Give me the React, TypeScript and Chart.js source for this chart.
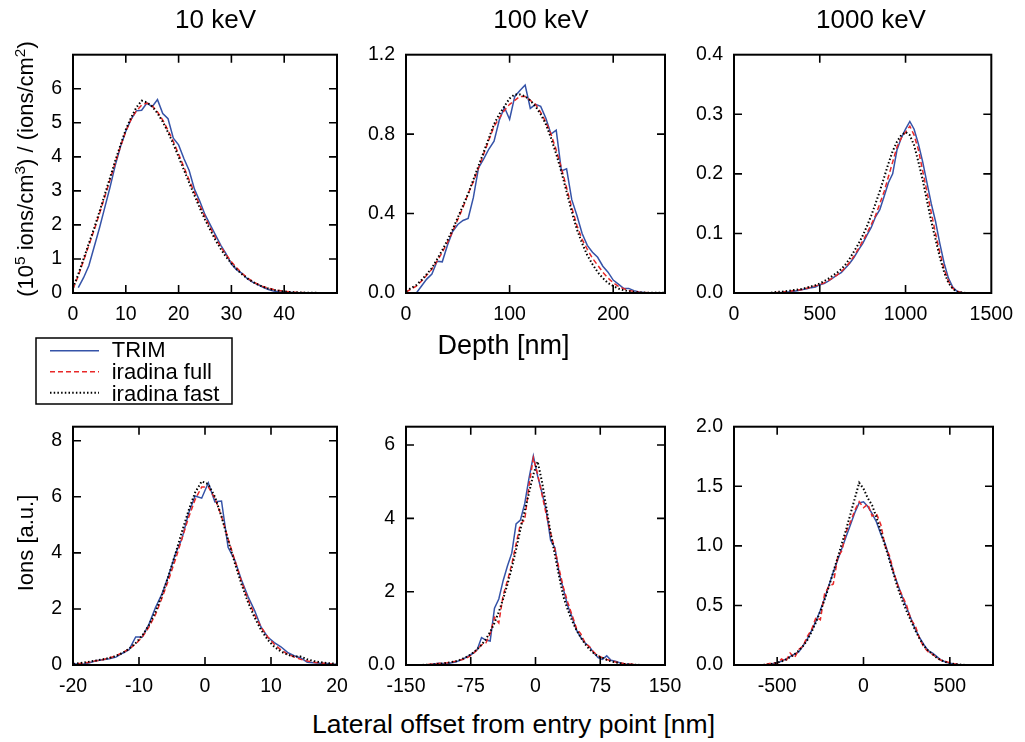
import React, { useEffect, useRef } from "react";
import { Chart, registerables } from "chart.js";

Chart.register(...registerables);

const FONT = "'Liberation Sans', Arial, Helvetica, sans-serif";
const BLUE = "#3553a8";
const RED = "#e82828";
const BLACK = "#000000";

// ---------------- Depth profiles ----------------
// 10 keV
const depth10X = [0, 1, 2, 3, 4, 5, 6, 7, 8, 9, 10, 11, 12, 13, 14, 15, 16, 17, 18, 19, 20, 21, 22, 23, 24, 25, 26, 27, 28, 29, 30, 31, 32, 33, 34, 35, 36, 37, 38, 39, 40, 41, 42, 43, 44, 45, 46, 47, 48, 49];
const depth10Trim = [null, 0.16, 0.45, 0.8, 1.35, 1.9, 2.5, 3.1, 3.75, 4.3, 4.75, 5.1, 5.35, 5.37, 5.58, 5.47, 5.68, 5.27, 5.12, 4.55, 4.35, 3.95, 3.6, 3.05, 2.7, 2.3, 2.0, 1.7, 1.4, 1.15, 0.85, 0.68, 0.58, 0.42, 0.32, 0.25, 0.17, 0.1, 0.06, 0.04, 0.03, 0.02, 0.01, 0, 0, 0, 0, 0, 0, 0];
const depth10Full = [0.12, 0.5, 0.95, 1.4, 1.85, 2.32, 2.82, 3.32, 3.82, 4.3, 4.75, 5.1, 5.35, 5.52, 5.58, 5.5, 5.32, 5.08, 4.78, 4.45, 4.08, 3.7, 3.32, 2.95, 2.58, 2.24, 1.92, 1.62, 1.36, 1.12, 0.92, 0.74, 0.58, 0.45, 0.34, 0.26, 0.19, 0.14, 0.1, 0.07, 0.05, 0.035, 0.025, 0.015, 0.01, 0.005, 0, 0, 0, 0];
const depth10Fast = [0.15, 0.55, 1.0, 1.45, 1.9, 2.38, 2.88, 3.38, 3.88, 4.35, 4.8, 5.15, 5.45, 5.65, 5.6, 5.48, 5.28, 5.03, 4.72, 4.38, 4.0, 3.62, 3.24, 2.87, 2.5, 2.16, 1.85, 1.55, 1.29, 1.06, 0.87, 0.7, 0.55, 0.43, 0.33, 0.25, 0.18, 0.13, 0.09, 0.065, 0.045, 0.03, 0.02, 0.015, 0.01, 0.005, 0.005, 0, 0, 0];

// 100 keV
const depth100X = [0, 5, 10, 15, 20, 25, 30, 35, 40, 45, 50, 55, 60, 65, 70, 75, 80, 85, 90, 95, 100, 105, 110, 115, 120, 125, 130, 135, 140, 145, 150, 155, 160, 165, 170, 175, 180, 185, 190, 195, 200, 205, 210, 215, 220, 225, 230, 235, 240, 245, 250];
const depth100Trim = [null, null, 0.0, 0.035, 0.07, 0.095, 0.16, 0.157, 0.24, 0.31, 0.345, 0.365, 0.375, 0.48, 0.63, 0.675, 0.725, 0.765, 0.87, 0.935, 0.875, 0.99, 1.02, 1.047, 0.93, 0.95, 0.94, 0.88, 0.8, 0.82, 0.615, 0.625, 0.47, 0.39, 0.3, 0.24, 0.205, 0.18, 0.135, 0.105, 0.065, 0.045, 0.024, 0.023, 0.012, 0.005, 0.002, 0, 0, 0, 0];
const depth100Full = [0.005, 0.02, 0.035, 0.06, 0.09, 0.12, 0.16, 0.205, 0.255, 0.31, 0.37, 0.43, 0.5, 0.56, 0.63, 0.7, 0.77, 0.84, 0.88, 0.92, 0.95, 0.97, 0.99, 0.99, 0.97, 0.95, 0.91, 0.86, 0.8, 0.72, 0.63, 0.53, 0.43, 0.34, 0.27, 0.22, 0.175, 0.14, 0.105, 0.075, 0.052, 0.034, 0.022, 0.013, 0.008, 0.004, 0.002, 0.001, 0, 0, 0];
const depth100Fast = [0.01, 0.025, 0.04, 0.065, 0.095, 0.125, 0.17, 0.215, 0.265, 0.32, 0.38, 0.44, 0.5, 0.57, 0.64, 0.71, 0.78, 0.85, 0.9, 0.94, 0.98, 1.0, 1.0, 0.99, 0.97, 0.94, 0.9, 0.85, 0.78, 0.7, 0.61, 0.51, 0.41, 0.32, 0.25, 0.19, 0.145, 0.105, 0.075, 0.05, 0.035, 0.022, 0.014, 0.009, 0.005, 0.003, 0.002, 0.001, 0.001, 0.001, 0.001];

// 1000 keV
const depth1000X = [0, 25, 50, 75, 100, 125, 150, 175, 200, 225, 250, 275, 300, 325, 350, 375, 400, 425, 450, 475, 500, 525, 550, 575, 600, 625, 650, 675, 700, 725, 750, 775, 800, 825, 850, 875, 900, 925, 950, 975, 1000, 1025, 1050, 1075, 1100, 1125, 1150, 1175, 1200, 1225, 1250, 1275, 1300, 1325, 1350, 1375, 1400, 1425, 1450, 1475, 1500];
const depth1000Trim = [0, 0, 0, 0, 0, 0, 0, 0, 0, 0, 0, 0.001, 0.001, 0.002, 0.003, 0.004, 0.006, 0.007, 0.009, 0.01, 0.014, 0.016, 0.02, 0.025, 0.03, 0.034, 0.042, 0.05, 0.06, 0.072, 0.083, 0.097, 0.11, 0.128, 0.14, 0.162, 0.185, 0.2, 0.24, 0.26, 0.275, 0.288, 0.275, 0.25, 0.22, 0.185, 0.15, 0.12, 0.083, 0.05, 0.025, 0.01, 0.003, 0.001, 0, 0, 0, 0, 0, 0, 0];
const depth1000Full = [0, 0, 0, 0, 0, 0, 0, 0, 0, 0, 0.001, 0.001, 0.002, 0.003, 0.004, 0.005, 0.006, 0.008, 0.01, 0.012, 0.014, 0.017, 0.021, 0.025, 0.03, 0.036, 0.043, 0.052, 0.062, 0.074, 0.087, 0.1, 0.115, 0.13, 0.15, 0.17, 0.195, 0.22, 0.245, 0.26, 0.27, 0.28, 0.265, 0.24, 0.205, 0.17, 0.135, 0.1, 0.068, 0.04, 0.02, 0.008, 0.003, 0.001, 0, 0, 0, 0, 0, 0, 0];
const depth1000Fast = [0, 0, 0, 0, 0, 0, 0, 0, 0, 0.001, 0.002, 0.002, 0.003, 0.004, 0.005, 0.006, 0.007, 0.009, 0.011, 0.013, 0.016, 0.02, 0.024, 0.029, 0.034, 0.04, 0.048, 0.058, 0.07, 0.082, 0.096, 0.112, 0.13, 0.15, 0.171, 0.194, 0.217, 0.238, 0.254, 0.265, 0.27, 0.265, 0.248, 0.22, 0.19, 0.155, 0.12, 0.09, 0.06, 0.035, 0.017, 0.007, 0.002, 0.001, 0, 0, 0, 0, 0, 0, 0];

// ---------------- Lateral profiles ----------------
// 10 keV
const lat10X = [-20.5, -19.5, -18.5, -17.5, -16.5, -15.5, -14.5, -13.5, -12.5, -11.5, -10.5, -9.5, -8.5, -7.5, -6.5, -5.5, -4.5, -3.5, -2.5, -1.5, -0.5, 0.5, 1.5, 2.5, 3.5, 4.5, 5.5, 6.5, 7.5, 8.5, 9.5, 10.5, 11.5, 12.5, 13.5, 14.5, 15.5, 16.5, 17.5, 18.5, 19.5, 20.5];
const lat10Trim = [0.05, 0.04, 0.03, 0.08, 0.15, 0.19, 0.22, 0.28, 0.42, 0.55, 1.0, 1.0, 1.45, 2.05, 2.55, 3.2, 3.95, 4.5, 5.4, 6.03, 5.95, 6.5, 5.82, 5.85, 4.2, 3.75, 3.05, 2.45, 1.95, 1.35, 1.0, 0.8, 0.65, 0.45, 0.33, 0.25, 0.1, 0.08, 0.06, 0.05, 0.03, 0.02];
const lat10Full = [0.03, 0.04, 0.06, 0.1, 0.15, 0.19, 0.25, 0.33, 0.44, 0.57, 0.75, 1.0, 1.35, 1.8, 2.4, 3.05, 3.75, 4.5, 5.25, 5.9, 6.35, 6.35, 5.95, 5.3, 4.5, 3.75, 3.0, 2.35, 1.8, 1.35, 1.0, 0.74, 0.54, 0.39, 0.29, 0.2, 0.14, 0.1, 0.07, 0.05, 0.03, 0.02];
const lat10Fast = [0.03, 0.05, 0.08, 0.12, 0.16, 0.2, 0.25, 0.32, 0.43, 0.58, 0.78, 1.05, 1.42, 1.9, 2.5, 3.2, 3.95, 4.75, 5.5, 6.15, 6.55, 6.45, 6.0, 5.3, 4.45, 3.65, 2.9, 2.25, 1.7, 1.25, 0.9, 0.65, 0.48, 0.37, 0.3, 0.3, 0.2, 0.14, 0.1, 0.07, 0.05, 0.04];

// 100 keV
const lat100X = [-152.5, -147.5, -142.5, -137.5, -132.5, -127.5, -122.5, -117.5, -112.5, -107.5, -102.5, -97.5, -92.5, -87.5, -82.5, -77.5, -72.5, -67.5, -62.5, -57.5, -52.5, -47.5, -42.5, -37.5, -32.5, -27.5, -22.5, -17.5, -12.5, -7.5, -2.5, 2.5, 7.5, 12.5, 17.5, 22.5, 27.5, 32.5, 37.5, 42.5, 47.5, 52.5, 57.5, 62.5, 67.5, 72.5, 77.5, 82.5, 87.5, 92.5, 97.5, 102.5, 107.5, 112.5, 117.5, 122.5, 127.5, 132.5, 137.5, 142.5, 147.5, 152.5];
const lat100Trim = [0, 0, 0, 0, 0, 0, 0.01, 0.03, 0.05, 0.04, 0.03, 0.06, 0.08, 0.13, 0.18, 0.25, 0.32, 0.42, 0.75, 0.68, 0.65, 1.55, 1.8, 2.3, 2.7, 3.05, 3.85, 3.95, 4.4, 5.1, 5.7, 5.15, 4.7, 4.2, 3.4, 3.2, 2.5, 2.05, 1.6, 1.3, 0.95, 0.75, 0.6, 0.5, 0.33, 0.2, 0.15, 0.25, 0.13, 0.1, 0.06, 0.03, 0.02, 0.01, 0, 0, 0, 0, 0, 0, 0, 0];
const lat100Full = [0, 0, 0, 0, 0, 0.01, 0.02, 0.03, 0.04, 0.05, 0.06, 0.08, 0.1, 0.13, 0.16, 0.22, 0.3, 0.42, 0.55, 0.6, 0.85, 1.3, 1.15, 1.9, 2.3, 2.75, 3.3, 3.85, 3.95, 4.9, 5.65, 5.2, 4.65, 4.1, 3.6, 3.15, 2.6, 2.1, 1.7, 1.35, 1.0, 0.85, 0.6, 0.5, 0.35, 0.25, 0.2, 0.15, 0.12, 0.08, 0.06, 0.04, 0.03, 0.02, 0.01, 0, 0, 0, 0, 0, 0, 0];
const lat100Fast = [0, 0, 0, 0, 0, 0.01, 0.01, 0.02, 0.03, 0.04, 0.06, 0.08, 0.1, 0.14, 0.19, 0.25, 0.33, 0.43, 0.55, 0.7, 0.9, 1.15, 1.45, 1.8, 2.2, 2.65, 3.15, 3.7, 4.2, 4.7, 5.2, 5.55, 5.0, 4.3, 3.6, 3.0, 2.4, 1.85, 1.5, 1.2, 0.95, 0.75, 0.57, 0.43, 0.32, 0.24, 0.2, 0.14, 0.1, 0.07, 0.05, 0.03, 0.02, 0.01, 0.01, 0, 0, 0, 0, 0, 0, 0];

// 1000 keV
const lat1000X = [-750, -725, -700, -675, -650, -625, -600, -575, -550, -525, -500, -475, -450, -425, -400, -375, -350, -325, -300, -275, -250, -225, -200, -175, -150, -125, -100, -75, -50, -25, 0, 25, 50, 75, 100, 125, 150, 175, 200, 225, 250, 275, 300, 325, 350, 375, 400, 425, 450, 475, 500, 525, 550, 575, 600, 625, 650, 675, 700, 725, 750];
const lat1000Trim = [0, 0, 0, 0, 0, 0, 0, 0, 0.005, 0.01, 0.02, 0.03, 0.05, 0.07, 0.09, 0.11, 0.16, 0.22, 0.29, 0.37, 0.46, 0.56, 0.67, 0.78, 0.88, 0.98, 1.08, 1.18, 1.28, 1.36, 1.37, 1.33, 1.27, 1.2, 1.1, 1.02, 0.9, 0.77, 0.67, 0.57, 0.48, 0.39, 0.3, 0.23, 0.17, 0.12, 0.1, 0.07, 0.04, 0.025, 0.015, 0.008, 0.004, 0.002, 0, 0, 0, 0, 0, 0, 0];
const lat1000Full = [0, 0, 0, 0, 0, 0, 0, 0, 0.01, 0.02, 0.01, 0.05, 0.03, 0.1, 0.06, 0.13, 0.16, 0.24, 0.3, 0.4, 0.38, 0.6, 0.66, 0.68, 0.9, 0.96, 1.12, 1.2, 1.3, 1.37, 1.32, 1.35, 1.25, 1.27, 1.18, 1.0, 0.92, 0.78, 0.66, 0.58, 0.5, 0.38, 0.33, 0.22, 0.15, 0.11, 0.09, 0.06, 0.04, 0.03, 0.02, 0.01, 0.005, 0, 0, 0, 0, 0, 0, 0, 0];
const lat1000Fast = [0, 0, 0, 0, 0, 0, 0, 0.002, 0.005, 0.01, 0.02, 0.03, 0.045, 0.065, 0.09, 0.12, 0.16, 0.21, 0.28, 0.36, 0.45, 0.55, 0.66, 0.78, 0.9, 1.02, 1.14, 1.27, 1.4, 1.53, 1.48, 1.4, 1.34, 1.24, 1.12, 1.0, 0.88, 0.76, 0.64, 0.54, 0.45, 0.37, 0.29, 0.22, 0.16, 0.12, 0.09, 0.06, 0.04, 0.025, 0.015, 0.008, 0.004, 0.002, 0, 0, 0, 0, 0, 0, 0];

// ---------------- Ticks ----------------
const depth10XTicks = [0, 10, 20, 30, 40];
const depth10XLabels = ["0", "10", "20", "30", "40"];
const depth10YTicks = [0, 1, 2, 3, 4, 5, 6];
const depth10YLabels = ["0", "1", "2", "3", "4", "5", "6"];
const depth100XTicks = [0, 100, 200];
const depth100XLabels = ["0", "100", "200"];
const depth100YTicks = [0, 0.4, 0.8, 1.2];
const depth100YLabels = ["0.0", "0.4", "0.8", "1.2"];
const depth1000XTicks = [0, 500, 1000, 1500];
const depth1000XLabels = ["0", "500", "1000", "1500"];
const depth1000YTicks = [0, 0.1, 0.2, 0.3, 0.4];
const depth1000YLabels = ["0.0", "0.1", "0.2", "0.3", "0.4"];
const lat10XTicks = [-20, -10, 0, 10, 20];
const lat10XLabels = ["-20", "-10", "0", "10", "20"];
const lat10YTicks = [0, 2, 4, 6, 8];
const lat10YLabels = ["0", "2", "4", "6", "8"];
const lat100XTicks = [-150, -75, 0, 75, 150];
const lat100XLabels = ["-150", "-75", "0", "75", "150"];
const lat100YTicks = [0, 2, 4, 6];
const lat100YLabels = ["0.0", "2", "4", "6"];
const lat1000XTicks = [-500, 0, 500];
const lat1000XLabels = ["-500", "0", "500"];
const lat1000YTicks = [0, 0.5, 1.0, 1.5, 2.0];
const lat1000YLabels = ["0.0", "0.5", "1.0", "1.5", "2.0"];

type Spec = {
  box: [number, number, number, number];
  x: number[];
  trim: (number | null)[];
  full: number[];
  fast: number[];
  xRange: [number, number];
  yRange: [number, number];
  xTicks: number[];
  xLabels: string[];
  yTicks: number[];
  yLabels: string[];
};

const ML = 70;
const MT = 15;
const MR = 30;
const MB = 40;

const framePlugin = {
  id: "gnuFrame",
  afterDraw(chart: any) {
    const { ctx, chartArea } = chart;
    const { left, top, right, bottom } = chartArea;
    const xs = chart.scales.x;
    const ys = chart.scales.y;
    const TL = 8;
    ctx.save();
    ctx.strokeStyle = "#000";
    ctx.lineWidth = 1.6;
    ctx.beginPath();
    xs.ticks.forEach((t: any) => {
      const p = xs.getPixelForValue(t.value);
      if (p <= left + 1 || p >= right - 1) return;
      ctx.moveTo(p, bottom);
      ctx.lineTo(p, bottom - TL);
      ctx.moveTo(p, top);
      ctx.lineTo(p, top + TL);
    });
    ys.ticks.forEach((t: any) => {
      const p = ys.getPixelForValue(t.value);
      if (p >= bottom - 1 || p <= top + 1) return;
      ctx.moveTo(left, p);
      ctx.lineTo(left + TL, p);
      ctx.moveTo(right, p);
      ctx.lineTo(right - TL, p);
    });
    ctx.stroke();
    ctx.lineWidth = 2;
    ctx.strokeRect(left, top, right - left, bottom - top);
    ctx.restore();
  },
};

function Panel({ spec }: { spec: Spec }) {
  const ref = useRef<HTMLCanvasElement | null>(null);
  const [L, T, R, B] = spec.box;
  const width = R - L + ML + MR;
  const height = B - T + MT + MB;
  useEffect(() => {
    if (!ref.current) return;
    const mk = (ys: (number | null)[]) => spec.x.map((v, i) => ({ x: v, y: ys[i] }));
    const tickFont = { family: FONT, size: 19.5 };
    const chart = new Chart(ref.current, {
      type: "line",
      data: {
        datasets: [
          { label: "TRIM", data: mk(spec.trim), borderColor: BLUE, borderWidth: 1.5, pointRadius: 0, tension: 0, order: 3, fill: false },
          { label: "iradina full", data: mk(spec.full), borderColor: RED, borderWidth: 1.5, borderDash: [5, 3], pointRadius: 0, tension: 0, order: 2, fill: false },
          { label: "iradina fast", data: mk(spec.fast), borderColor: BLACK, borderWidth: 2, borderDash: [1.5, 2.2], pointRadius: 0, tension: 0, order: 1, fill: false },
        ] as any,
      },
      options: {
        animation: false,
        responsive: false,
        devicePixelRatio: 1,
        events: [],
        layout: { padding: { left: 0, top: MT, right: MR, bottom: 0 } },
        plugins: { legend: { display: false }, tooltip: { enabled: false } },
        scales: {
          x: {
            type: "linear",
            min: spec.xRange[0],
            max: spec.xRange[1],
            grid: { display: false, drawTicks: false },
            border: { display: false },
            ticks: {
              autoSkip: false,
              maxRotation: 0,
              padding: 10,
              color: "#000",
              font: tickFont,
              callback: (_v: any, i: number) => spec.xLabels[i],
            },
            afterBuildTicks: (s: any) => {
              s.ticks = spec.xTicks.map((v) => ({ value: v }));
            },
            afterFit: (s: any) => {
              s.height = MB;
            },
          },
          y: {
            type: "linear",
            min: spec.yRange[0],
            max: spec.yRange[1],
            grid: { display: false, drawTicks: false },
            border: { display: false },
            ticks: {
              autoSkip: false,
              padding: 11,
              color: "#000",
              font: tickFont,
              callback: (_v: any, i: number) => spec.yLabels[i],
            },
            afterBuildTicks: (s: any) => {
              s.ticks = spec.yTicks.map((v) => ({ value: v }));
            },
            afterFit: (s: any) => {
              s.width = ML;
            },
          },
        },
      } as any,
      plugins: [framePlugin],
    });
    return () => chart.destroy();
  }, [spec]);
  return (
    <canvas
      ref={ref}
      width={width}
      height={height}
      style={{ position: "absolute", left: L - ML, top: T - MT, width, height }}
    />
  );
}

const specs: Spec[] = [
  { box: [73, 47, 337, 293], x: depth10X, trim: depth10Trim, full: depth10Full, fast: depth10Fast, xRange: [0, 50], yRange: [0, 7], xTicks: depth10XTicks, xLabels: depth10XLabels, yTicks: depth10YTicks, yLabels: depth10YLabels },
  { box: [406, 47, 665, 293], x: depth100X, trim: depth100Trim, full: depth100Full, fast: depth100Fast, xRange: [0, 250], yRange: [0, 1.2], xTicks: depth100XTicks, xLabels: depth100XLabels, yTicks: depth100YTicks, yLabels: depth100YLabels },
  { box: [734, 47, 993, 293], x: depth1000X, trim: depth1000Trim, full: depth1000Full, fast: depth1000Fast, xRange: [0, 1500], yRange: [0, 0.4], xTicks: depth1000XTicks, xLabels: depth1000XLabels, yTicks: depth1000YTicks, yLabels: depth1000YLabels },
  { box: [73, 419, 337, 665], x: lat10X, trim: lat10Trim, full: lat10Full, fast: lat10Fast, xRange: [-20, 20], yRange: [0, 8.5], xTicks: lat10XTicks, xLabels: lat10XLabels, yTicks: lat10YTicks, yLabels: lat10YLabels },
  { box: [406, 419, 665, 665], x: lat100X, trim: lat100Trim, full: lat100Full, fast: lat100Fast, xRange: [-150, 150], yRange: [0, 6.5], xTicks: lat100XTicks, xLabels: lat100XLabels, yTicks: lat100YTicks, yLabels: lat100YLabels },
  { box: [734, 419, 993, 665], x: lat1000X, trim: lat1000Trim, full: lat1000Full, fast: lat1000Fast, xRange: [-750, 750], yRange: [0, 2.0], xTicks: lat1000XTicks, xLabels: lat1000XLabels, yTicks: lat1000YTicks, yLabels: lat1000YLabels },
];

function Label({ x, y, size, rotate, children }: { x: number; y: number; size: number; rotate?: boolean; children: any }) {
  return (
    <div
      style={{
        position: "absolute",
        left: x,
        top: y,
        transform: `translate(-50%, -50%)${rotate ? " rotate(-90deg)" : ""}`,
        fontFamily: FONT,
        fontSize: size,
        lineHeight: `${size}px`,
        whiteSpace: "nowrap",
        color: "#000",
      }}
    >
      {children}
    </div>
  );
}

const sup = (t: string) => (
  <span style={{ fontSize: "0.7em", position: "relative", top: "-0.55em" }}>{t}</span>
);

export default function App() {
  return (
    <div style={{ position: "absolute", left: 0, top: 0, width: 1025, height: 742, background: "#fff", overflow: "hidden" }}>
      {specs.map((s, i) => (
        <Panel key={i} spec={s} />
      ))}
      <Label x={215.5} y={18.5} size={26}>10 keV</Label>
      <Label x={541} y={18.5} size={26}>100 keV</Label>
      <Label x={871} y={18.5} size={26}>1000 keV</Label>
      <Label x={503.5} y={345} size={27}>Depth [nm]</Label>
      <Label x={513.5} y={724} size={26.5}>Lateral offset from entry point [nm]</Label>
      <Label x={27} y={168.5} size={22} rotate>
        <span>(10{sup("5")} ions/cm{sup("3")}) / (ions/cm{sup("2")})</span>
      </Label>
      <Label x={26} y={542.5} size={22} rotate>Ions [a.u.]</Label>
      <svg style={{ position: "absolute", left: 30, top: 330 }} width={210} height={80}>
        <rect x={6} y={8} width={196} height={66} fill="none" stroke="#000" strokeWidth={1.5} />
        <line x1={20} y1={20.7} x2={69} y2={20.7} stroke={BLUE} strokeWidth={1.5} />
        <line x1={20} y1={41.7} x2={69} y2={41.7} stroke={RED} strokeWidth={1.5} strokeDasharray="5 3" />
        <line x1={20} y1={62.7} x2={69} y2={62.7} stroke={BLACK} strokeWidth={2} strokeDasharray="1.5 2.2" />
        <text x={81.7} y={27} fontFamily={FONT} fontSize={22} fill="#000">TRIM</text>
        <text x={81.7} y={49} fontFamily={FONT} fontSize={22} fill="#000">iradina full</text>
        <text x={81.7} y={71} fontFamily={FONT} fontSize={22} fill="#000">iradina fast</text>
      </svg>
    </div>
  );
}
